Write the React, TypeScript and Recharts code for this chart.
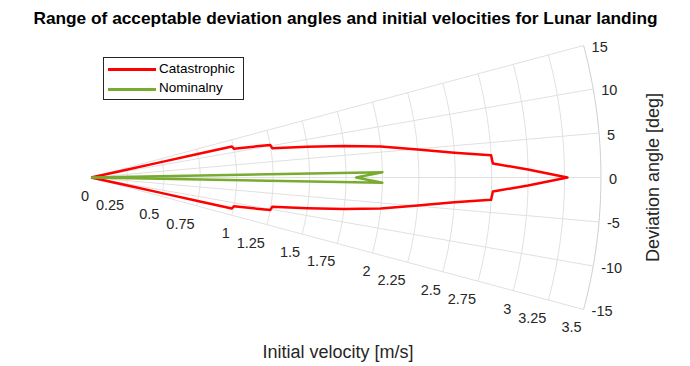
import { ScatterChart, Scatter, XAxis, YAxis } from "recharts";

// radial axis (velocity) and angular axis (deviation) ticks
const velocityTicks = [0, 0.25, 0.5, 0.75, 1, 1.25, 1.5, 1.75, 2, 2.25, 2.5, 2.75, 3, 3.25, 3.5];
const velocityTickLabels = ["0", "0.25", "0.5", "0.75", "1", "1.25", "1.5", "1.75", "2", "2.25", "2.5", "2.75", "3", "3.25", "3.5"];
const angleTicks = [15, 10, 5, 0, -5, -10, -15];
const angleTickLabels = ["15", "10", "5", "0", "-5", "-10", "-15"];

// Catastrophic boundary (upper half, mirrored for the lower half)
const catVelocity = [0, 0.25, 0.5, 0.75, 0.99, 1.0, 1.25, 1.26, 1.5, 1.75, 2.0, 2.25, 2.5, 2.75, 2.76, 3.0, 3.27];
const catAngle = [12.4, 12.4, 12.4, 12.4, 12.4, 11.4, 10.3, 9.2, 8.1, 7.1, 6.1, 4.9, 3.9, 3.2, 2.0, 1.05, 0];

// Nominalny boundary (closed loop)
const nomVelocity = [0, 2.0, 1.82, 2.0, 0];
const nomAngle = [1.05, 1.05, 0, -1.05, -1.05];

const FONT = "'Liberation Sans', Arial, Helvetica, sans-serif";
const R_MAX = 3.5;

const rad = (d: number) => (d * Math.PI) / 180;
const toXY = (r: number, deg: number) => ({ x: r * Math.cos(rad(deg)), y: r * Math.sin(rad(deg)) });

const catLoop = [
  ...catVelocity.map((v, i) => toXY(v, catAngle[i])),
  ...catVelocity.map((v, i) => toXY(v, -catAngle[i])).reverse(),
];
const nomLoop = nomVelocity.map((v, i) => toXY(v, nomAngle[i]));

// polar grid
const arcs = velocityTicks.filter((r) => r > 0).map((r) => {
  const pts = [];
  for (let a = -15; a <= 15; a += 0.5) pts.push(toXY(r, a));
  return pts;
});
const rays = angleTicks.map((a) => [toXY(0, a), toXY(R_MAX, a)]);

const velLabelPts = velocityTicks.map((r, i) => ({ ...toXY(r, -15), label: velocityTickLabels[i] }));
const angLabelPts = angleTicks.map((a, i) => ({ ...toXY(R_MAX, a), label: angleTickLabels[i] }));

const NoDot = () => <g />;

const VelLabel = (p: any) => (
  <text x={p.cx - 2} y={p.cy + 18} textAnchor="end" dominantBaseline="central"
    fontSize={14.5} fontFamily={FONT} fill="#262626">{p.payload.label}</text>
);
const AngLabel = (p: any) => (
  <text x={p.cx + 8} y={p.cy + 1.5} textAnchor="start" dominantBaseline="central"
    fontSize={14.5} fontFamily={FONT} fill="#262626">{p.payload.label}</text>
);

export default function App() {
  return (
    <div style={{ position: "absolute", left: 0, top: 0, width: 690, height: 366, background: "#fff" }}>
      <ScatterChart width={690} height={366} margin={{ top: 17.23, right: 45.34, bottom: 28.23, left: 32.72 }}>
        <XAxis type="number" dataKey="x" domain={[-0.4, 3.8]} hide allowDataOverflow />
        <YAxis type="number" dataKey="y" domain={[-1.1, 1.1]} hide allowDataOverflow />
        {arcs.map((pts, i) => (
          <Scatter key={"arc" + i} data={pts} line={{ stroke: i === arcs.length - 1 ? "#cfcfcf" : "#e0e0e0", strokeWidth: 1 }}
            shape={NoDot} isAnimationActive={false} legendType="none" />
        ))}
        {rays.map((pts, i) => (
          <Scatter key={"ray" + i} data={pts} line={{ stroke: "#e0e0e0", strokeWidth: 1 }}
            shape={NoDot} isAnimationActive={false} legendType="none" />
        ))}
        <Scatter name="Catastrophic" data={catLoop} line={{ stroke: "#ff0000", strokeWidth: 2.5, strokeLinejoin: "round" }}
          shape={NoDot} isAnimationActive={false} />
        <Scatter name="Nominalny" data={nomLoop} line={{ stroke: "#77ac30", strokeWidth: 2.5, strokeLinejoin: "round" }}
          shape={NoDot} isAnimationActive={false} />
        <Scatter data={velLabelPts} shape={VelLabel} isAnimationActive={false} legendType="none" />
        <Scatter data={angLabelPts} shape={AngLabel} isAnimationActive={false} legendType="none" />
      </ScatterChart>

      <svg width={690} height={366} style={{ position: "absolute", left: 0, top: 0, pointerEvents: "none" }}>
        <text x={345.5} y={18} textAnchor="middle" dominantBaseline="central" fontSize={17.3}
          fontWeight="bold" fontFamily={FONT} fill="#000">
          Range of acceptable deviation angles and initial velocities for Lunar landing
        </text>
        <text x={338} y={352} textAnchor="middle" dominantBaseline="central" fontSize={18}
          fontFamily={FONT} fill="#262626">Initial velocity [m/s]</text>
        <text x={653} y={177.5} textAnchor="middle" dominantBaseline="central" fontSize={18}
          fontFamily={FONT} fill="#262626" transform="rotate(-90 653 177.5)">Deviation angle [deg]</text>
      </svg>

      <div style={{ position: "absolute", left: 103, top: 57, width: 139, height: 41, border: "1px solid #262626",
        background: "#fff", fontFamily: FONT, fontSize: 13.5, color: "#000" }}>
        <div style={{ position: "absolute", left: 4, top: 10, width: 48, height: 2.5, background: "#ff0000" }} />
        <div style={{ position: "absolute", left: 55, top: 3, lineHeight: "16px" }}>Catastrophic</div>
        <div style={{ position: "absolute", left: 4, top: 30, width: 48, height: 2.5, background: "#77ac30" }} />
        <div style={{ position: "absolute", left: 55, top: 22, lineHeight: "16px" }}>Nominalny</div>
      </div>
    </div>
  );
}
